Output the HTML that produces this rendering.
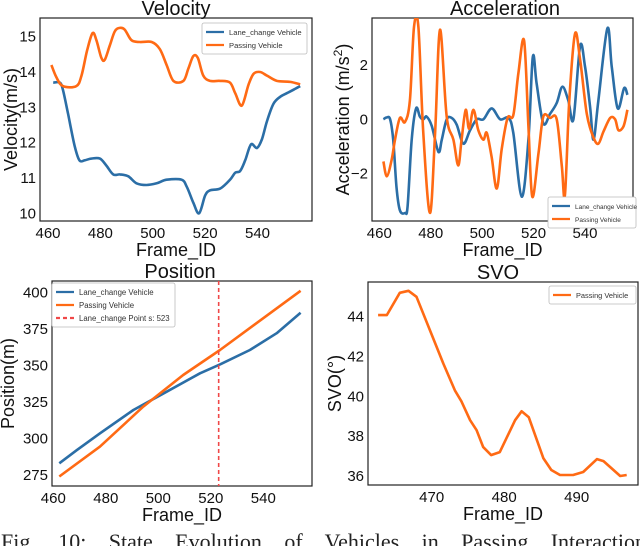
<!DOCTYPE html>
<html><head><meta charset="utf-8"><style>
html,body{margin:0;padding:0;background:#fff;width:640px;height:546px;overflow:hidden}
svg{display:block;font-family:"Liberation Sans",sans-serif}
</style></head><body>
<svg id="fig" width="640" height="546" viewBox="0 0 640 546">
<text id="cap" x="1" y="549" font-family="Liberation Serif,serif" font-size="22" fill="#222">Fig. 10: State Evolution of Vehicles in Passing Interaction</text>
</svg>
<script>
// ---- Velocity data
const velLaneFrames=[462,464.5,465.7,467.7,470.2,472,474,476.6,479.8,482.3,484.9,487.4,490.6,493.8,497.6,501.5,505.3,511,513,515.5,517.7,520,521.9,525.7,529.5,531.5,533.4,535.3,537.5,539.8,541.7,543.6,546.1,548.7,551.2,553.8,556.3];
const velLaneValues=[13.7,13.7,13.5,12.8,11.9,11.5,11.5,11.55,11.55,11.35,11.1,11.1,11.05,10.85,10.8,10.85,10.95,10.95,10.75,10.3,10.0,10.5,10.65,10.7,10.95,11.15,11.2,11.5,11.95,11.85,12.1,12.6,13.1,13.3,13.4,13.5,13.6];
const velPassFrames=[461.3,463.2,465.7,470.8,472.8,474.9,477,478.5,480.4,481.7,483.6,485.5,487.4,489.3,491.9,495.1,499.6,502.7,505.3,507.9,511.7,513.6,515.5,517.2,519.3,521.9,525.7,529.5,531.5,534,536.6,538.5,541,543.6,547.4,552.5,556.3];
const velPassValues=[14.2,13.85,13.6,13.6,13.9,14.6,15.1,14.9,14.4,14.35,14.75,15.15,15.25,15.2,14.9,14.85,14.85,14.65,14.2,13.75,13.75,14.1,14.45,14.4,13.9,13.75,13.75,13.7,13.4,13.05,13.65,13.95,14.0,13.9,13.75,13.72,13.65];
const velXTicks=[460,480,500,520,540];
const velYTicks=[10,11,12,13,14,15];
// ---- Acceleration data
const accLaneFrames=[461.6,462.9,464.2,465.4,466.7,468,470,471,472.6,474.3,475.8,477.1,478.4,480.4,483,484.3,486.2,488.1,490.1,492.7,495.3,497.9,500.5,503.7,507,510.2,512.1,515.4,518,519.7,521.2,523.8,526.4,529,531.2,533.5,535.5,538.1,540,542,543.3,545.2,548.7,550.4,552.7,555.2,556.5];
const accLaneValues=[0,0.07,0,-0.75,-2.5,-3.35,-3.45,-3.2,-0.75,0.4,0.1,0,0.1,-0.25,-1.2,-0.75,0,0.05,-0.2,-0.9,-0.4,0,0,0.4,0,0.05,-0.5,-2.85,-0.75,2.3,1.3,-0.15,0.2,0.6,1.2,0.7,0,2.7,1.95,0.45,-0.75,0.7,3.35,1.95,0.4,1.15,0.9];
const accPassFrames=[461.6,462.9,464.8,466.1,468,470,471.9,473.5,475.2,477.1,479.7,481.7,483.6,486.2,488.8,490.7,492,493.6,494.9,496.6,498.5,500.5,501.8,503.7,505.7,507.6,509.9,512.1,514.1,516.3,518,519.5,521.9,523.8,526.4,529,531,532.2,533.9,536.1,538.1,540.7,543.2,545.2,547.2,549.8,551.7,553,555,556.5];
const accPassValues=[-1.55,-2.1,-1.5,-0.75,0.05,-0.1,0.7,3.4,3.4,-0.5,-3.45,-0.5,3.3,0.1,-0.75,-1.7,-0.75,0.35,-0.35,0.35,-0.4,-0.75,-0.5,-1.4,-2.55,-1.1,0.05,0.15,1.7,2.9,-0.25,-2.85,-1.25,0.1,0.05,0,-1.75,-2.8,0.7,3.15,2.2,0.2,-0.65,-0.9,-0.45,0.05,0,-0.4,-0.25,0.35];
const accXTicks=[460,480,500,520,540];
const accYTicks=[-2,0,2];
// ---- Position data
const posLaneFrames=[462.3,468.9,477.8,490.5,503.2,515.9,523.5,534.9,545.1,554.2];
const posLaneValues=[283,292,303.5,319.5,332,344.6,350.7,360.5,372,386];
const posPassFrames=[462.3,477.8,494.3,509.5,523.5,554.2];
const posPassValues=[274,294.4,321.8,343.4,360.5,401];
const laneChangePoint=[523];
const posXTicks=[460,480,500,520,540];
const posYTicks=[275,300,325,350,375,400];
// ---- SVO data
const svoFrames=[462.6,463.8,465.6,466.8,467.9,470,471.6,473.2,474.1,475.3,476.2,477.1,478.2,479.4,481.5,482.4,483.4,485.4,486.5,487.7,489.5,490.9,492.8,493.7,496,496.9];
const svoValues=[44.08,44.08,45.2,45.3,45.0,43.1,41.65,40.3,39.75,38.8,38.3,37.45,37.05,37.2,38.8,39.25,38.95,36.9,36.3,36.05,36.05,36.2,36.85,36.75,36.0,36.05];
const svoXTicks=[470,480,490];
const svoYTicks=[36,38,40,42,44];

const NS='http://www.w3.org/2000/svg';
const svg=document.getElementById('fig');
const BLUE='#2b6ea6',ORANGE='#ff6a14';
function mk(tag,attrs,parent){const e=document.createElementNS(NS,tag);for(const k in attrs)e.setAttribute(k,attrs[k]);(parent||svg).appendChild(e);return e;}
function scale(d0,p0,d1,p1){return v=>p0+(v-d0)*(p1-p0)/(d1-d0);}

const cap=document.getElementById('cap');
const natural=cap.getComputedTextLength();
cap.setAttribute('word-spacing',((645-natural)/8).toFixed(2));

function axes(box,title,ylabel,xs,ys,xt,yt,prefix,ylabelX,titleX){
  const g=mk('g',{});
  
  
  const t=mk('text',{x:titleX,y:box.t-3,'font-size':20,'text-anchor':'middle',fill:'#111'},g);t.textContent=title;
  
  
  xt.forEach(v=>{const l=mk('text',{x:xs(v),y:box.b+17,'font-size':15,'text-anchor':'middle',fill:'#111'},g);l.textContent=v;
    
    });
  yt.forEach(v=>{const l=mk('text',{x:box.l-4,y:ys(v)+5,'font-size':15,'text-anchor':'end',fill:'#111'},g);l.textContent=(v<0?'\u2212'+(-v):v);
    
    });
  const xl=mk('text',{x:(box.l+box.r)/2,y:box.b+35,'font-size':18,'text-anchor':'middle',fill:'#111'},g);xl.textContent='Frame_ID';
  
  
  const cy=(box.t+box.b)/2;
  const yl=mk('text',{x:ylabelX,y:cy,'font-size':18,'text-anchor':'middle',fill:'#111',transform:`rotate(-90 ${ylabelX} ${cy})`},g);
  if(ylabel==='acc'){yl.innerHTML='Acceleration (m/s<tspan dy="-7" font-size="12">2</tspan><tspan dy="7">)</tspan>';}else yl.textContent=ylabel;
  
  
  const fr=mk('rect',{x:box.l,y:box.t,width:box.r-box.l,height:box.b-box.t,fill:'none',stroke:'#222','stroke-width':1.2},g);
  
  
  const clip=mk('clipPath',{id:'c-'+prefix},g);mk('rect',{x:box.l,y:box.t,width:box.r-box.l,height:box.b-box.t},clip);
  return g;
}
function smoothPath(P,smooth){
  let d='M'+P[0][0].toFixed(1)+','+P[0][1].toFixed(1);
  for(let i=0;i<P.length-1;i++){
    const p0=P[Math.max(i-1,0)],p1=P[i],p2=P[i+1],p3=P[Math.min(i+2,P.length-1)];
    if(!smooth){d+=` L${p2[0].toFixed(1)},${p2[1].toFixed(1)}`;continue;}
    const c1=[p1[0]+(p2[0]-p0[0])/6,p1[1]+(p2[1]-p0[1])/6];
    const c2=[p2[0]-(p3[0]-p1[0])/6,p2[1]-(p3[1]-p1[1])/6];
    d+=` C${c1[0].toFixed(1)},${c1[1].toFixed(1)} ${c2[0].toFixed(1)},${c2[1].toFixed(1)} ${p2[0].toFixed(1)},${p2[1].toFixed(1)}`;
  }
  return d;
}
function line(g,prefix,xs,ys,fr,vals,color,name,smooth){
  const P=fr.map((f,i)=>[xs(f),ys(vals[i])]);
  const p=mk('path',{d:smoothPath(P,smooth!==false),fill:'none',stroke:color,'stroke-width':2.6,'stroke-linejoin':'round','clip-path':`url(#c-${prefix})`},g);
  
  
}
function legend(g,prefix,x,y,w,fs,entries){
  const h=entries.length*13+5;
  const r=mk('rect',{x:x,y:y,width:w,height:h,fill:'#fff',stroke:'#bbb','stroke-width':0.8,rx:2},g);
  
  
  entries.forEach((e,i)=>{const yy=y+9+i*13;
    mk('line',{x1:x+4,y1:yy,x2:x+22,y2:yy,stroke:e[1],'stroke-width':2.2,'stroke-dasharray':e[2]?'4,3':'none'},g);
    const t=mk('text',{x:x+27,y:yy+3,'font-size':fs,fill:'#333'},g);t.textContent=e[0];
    
    });
}
// Velocity
{const b={l:40,r:312,t:18,b:221};const xs=scale(460,48,540,257.5),ys=scale(15,36.7,10,213.3);
 const g=axes(b,'Velocity','Velocity(m/s)',xs,ys,velXTicks,velYTicks,'velocity',17,176);
 line(g,'velocity',xs,ys,velLaneFrames,velLaneValues,BLUE,'velocity-lane-change-line');
 line(g,'velocity',xs,ys,velPassFrames,velPassValues,ORANGE,'velocity-passing-line');
 legend(g,'velocity',202,23,105,7.6,[['Lane_change Vehicle',BLUE],['Passing Vehicle',ORANGE]]);}
// Acceleration
{const b={l:372,r:633,t:18,b:221};const xs=scale(460,379.3,540,585),ys=scale(0,119.3,2,65);
 const g=axes(b,'Acceleration','acc',xs,ys,accXTicks,accYTicks,'acceleration',349,505);
 line(g,'acceleration',xs,ys,accLaneFrames,accLaneValues,BLUE,'acceleration-lane-change-line');
 line(g,'acceleration',xs,ys,accPassFrames,accPassValues,ORANGE,'acceleration-passing-line');
 legend(g,'acceleration',548,197,88,6.5,[['Lane_change Vehicle',BLUE],['Passing Vehicle',ORANGE]]);}
// Position
{const b={l:52,r:312,t:281,b:486};const xs=scale(460,53.3,540,263.3),ys=scale(400,292.3,275,475);
 const g=axes(b,'Position','Position(m)',xs,ys,posXTicks,posYTicks,'position',14,180);
 line(g,'position',xs,ys,posLaneFrames,posLaneValues,BLUE,'position-lane-change-line',false);
 line(g,'position',xs,ys,posPassFrames,posPassValues,ORANGE,'position-passing-line',false);
 laneChangePoint.forEach(f=>{const l=mk('line',{x1:xs(f),x2:xs(f),y1:b.t,y2:b.b,stroke:'#f04848','stroke-width':1.6,'stroke-dasharray':'4,3'},g);
   
   });
 legend(g,'position',52,283,123,7.8,[['Lane_change Vehicle',BLUE],['Passing Vehicle',ORANGE],['Lane_change Point s: 523','#f04848',true]]);}
// SVO
{const b={l:368,r:638,t:282,b:485};const xs=scale(470,431.7,490,576.7),ys=scale(44,316.7,36,476);
 const g=axes(b,'SVO','SVO(°)',xs,ys,svoXTicks,svoYTicks,'svo',341,498);
 line(g,'svo',xs,ys,svoFrames,svoValues,ORANGE,'svo-passing-line',false);
 legend(g,'svo',549,286,87,7.4,[['Passing Vehicle',ORANGE]]);}
</script>
</body></html>
